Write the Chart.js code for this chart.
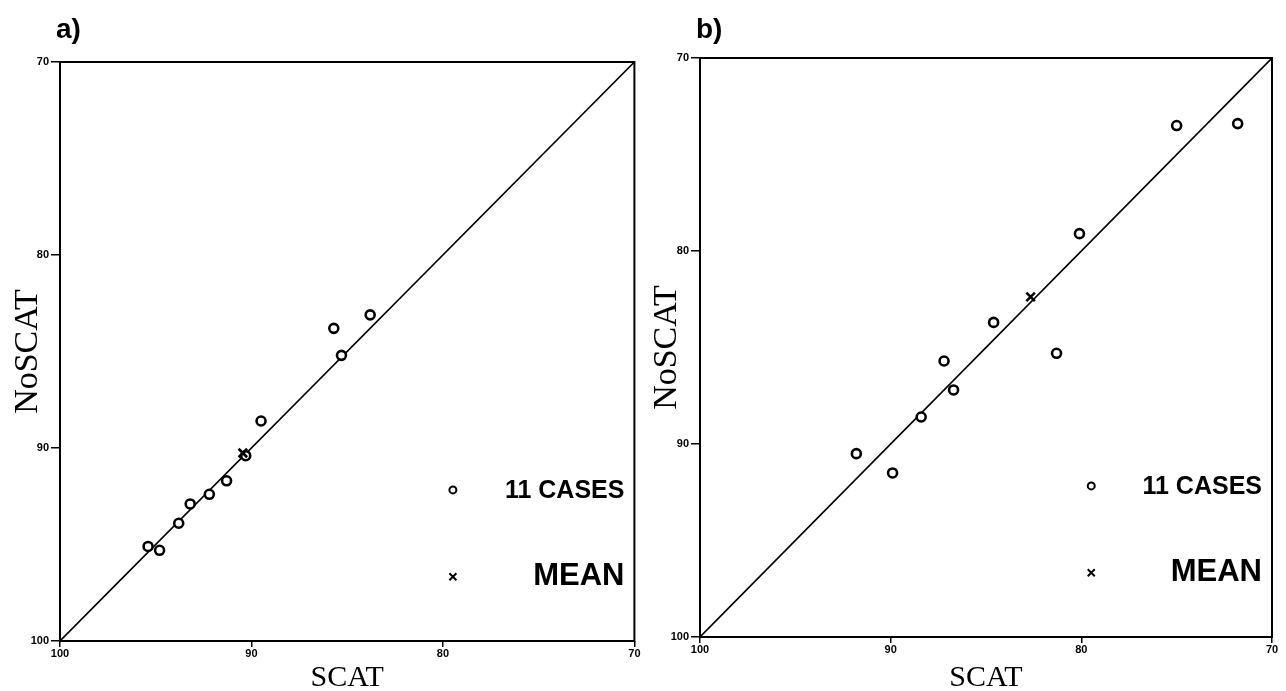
<!DOCTYPE html>
<html>
<head>
<meta charset="utf-8">
<script src="https://cdn.jsdelivr.net/npm/chart.js@4.4.1/dist/chart.umd.min.js"></script>
<style>
  html, body { margin: 0; padding: 0; background: #fff; }
  #wrap { position: relative; width: 1286px; height: 691px; overflow: hidden; }
  canvas { position: absolute; top: 0; }
</style>
</head>
<body>
<div id="wrap">
  <canvas id="chartA" width="643" height="691" style="left:0"></canvas>
  <canvas id="chartB" width="643" height="691" style="left:643px"></canvas>
</div>
<script>
// axis range (reversed on both axes: 100 at the origin, 70 at the far corner)
const axisMax = 100
const axisMin = 70
const tickStep = 10
const identityLine = [{ x: 100, y: 100 }, { x: 70, y: 70 }]

// panel a)
const scatA = [83.8, 85.7, 85.3, 89.5, 90.3, 91.3, 92.2, 93.2, 93.8, 95.4, 94.8]
const noscatA = [83.1, 83.8, 85.2, 88.6, 90.4, 91.7, 92.4, 92.9, 93.9, 95.1, 95.3]
const meanA = { x: 90.45, y: 90.26 }

// panel b)
const scatB = [75.0, 71.8, 80.1, 84.6, 81.3, 87.2, 86.7, 88.4, 91.8, 89.9]
const noscatB = [73.5, 73.4, 79.1, 83.7, 85.3, 85.7, 87.2, 88.6, 90.5, 91.5]
const meanB = { x: 82.66, y: 82.38 }

const casesLabel = "11 CASES"
const meanLabel = "MEAN"
const xTitle = "SCAT"
const yTitle = "NoSCAT"

function toPoints(xs, ys) {
  return xs.map((x, i) => ({ x, y: ys[i] }))
}

// frame, panel letter and the in-plot key
const framePlugin = {
  id: "frame",
  afterDraw(chart, args, opts) {
    const { ctx, chartArea: a } = chart
    ctx.save()
    ctx.strokeStyle = "#000"
    ctx.lineWidth = 2
    ctx.strokeRect(a.left, a.top, a.right - a.left, a.bottom - a.top)

    ctx.fillStyle = "#000"
    ctx.textBaseline = "middle"
    ctx.textAlign = "left"
    ctx.font = "bold 28px 'Liberation Sans', Arial, sans-serif"
    ctx.fillText(opts.panel, a.left - 4, 30)

    const w = a.right - a.left
    const h = a.bottom - a.top
    const mx = a.left + w * 0.684
    const y1 = a.top + h * 0.739
    const y2 = a.top + h * 0.889

    ctx.lineWidth = 2
    ctx.beginPath()
    ctx.arc(mx, y1, 3.5, 0, Math.PI * 2)
    ctx.stroke()

    ctx.lineWidth = 2
    ctx.beginPath()
    ctx.moveTo(mx - 3.5, y2 - 3.5); ctx.lineTo(mx + 3.5, y2 + 3.5)
    ctx.moveTo(mx + 3.5, y2 - 3.5); ctx.lineTo(mx - 3.5, y2 + 3.5)
    ctx.stroke()

    ctx.textAlign = "right"
    ctx.font = "bold 25px 'Liberation Sans', Arial, sans-serif"
    ctx.fillText(casesLabel, a.right - 10, y1 + 1)
    ctx.font = "bold 31px 'Liberation Sans', Arial, sans-serif"
    ctx.fillText(meanLabel, a.right - 10, y2)
    ctx.restore()
  }
}

function makeChart(id, panel, cases, mean, box) {
  const tickFont = { family: "'Liberation Sans', Arial, sans-serif", size: 11, weight: "bold" }
  const titleFont = { family: "'Liberation Serif', 'Times New Roman', serif", weight: "normal" }
  return new Chart(document.getElementById(id), {
    type: "scatter",
    data: {
      datasets: [
        {
          label: "line",
          data: identityLine,
          showLine: true,
          borderColor: "#000",
          borderWidth: 1.6,
          pointRadius: 0,
          order: 3,
        },
        {
          label: casesLabel,
          data: cases,
          pointStyle: "circle",
          pointRadius: 4.5,
          borderWidth: 2.6,
          borderColor: "#000",
          backgroundColor: "#fff",
          order: 2,
        },
        {
          label: meanLabel,
          data: [mean],
          pointStyle: "crossRot",
          pointRadius: 6,
          borderWidth: 2.6,
          borderColor: "#000",
          order: 1,
        },
      ]
    },
    options: {
      responsive: false,
      animation: false,
      devicePixelRatio: 1,
      layout: { padding: { left: box.padLeft, top: box.top, right: box.padRight, bottom: 0 } },
      plugins: {
        legend: { display: false },
        tooltip: { enabled: false },
        frame: { panel },
      },
      scales: {
        x: {
          type: "linear",
          reverse: true,
          min: axisMin,
          max: axisMax,
          ticks: { stepSize: tickStep, color: "#000", font: tickFont, padding: 0, maxRotation: 0 },
          grid: { drawOnChartArea: false, drawTicks: true, tickLength: 6, color: "#000", lineWidth: 1.5 },
          border: { display: false },
          title: { display: true, text: xTitle, color: "#000", font: { ...titleFont, size: 30 }, padding: { top: 0, bottom: -5 } },
          afterFit(scale) { scale.height = box.xHeight },
        },
        y: {
          type: "linear",
          reverse: true,
          min: axisMin,
          max: axisMax,
          ticks: { stepSize: tickStep, color: "#000", font: tickFont, padding: 2 },
          grid: { drawOnChartArea: false, drawTicks: true, tickLength: 9, color: "#000", lineWidth: 1.5 },
          border: { display: false },
          title: { display: true, text: yTitle, color: "#000", font: { ...titleFont, size: 34 }, padding: { top: 0, bottom: 0 } },
          afterFit(scale) { scale.width = box.yWidth },
        },
      }
    },
    plugins: [framePlugin]
  })
}

makeChart("chartA", "a)", toPoints(scatA, noscatA), meanA,
  { padLeft: 8, top: 62, padRight: 8, xHeight: 50, yWidth: 52 })
makeChart("chartB", "b)", toPoints(scatB, noscatB), meanB,
  { padLeft: 4, top: 58, padRight: 14, xHeight: 54, yWidth: 53 })
</script>
</body>
</html>
